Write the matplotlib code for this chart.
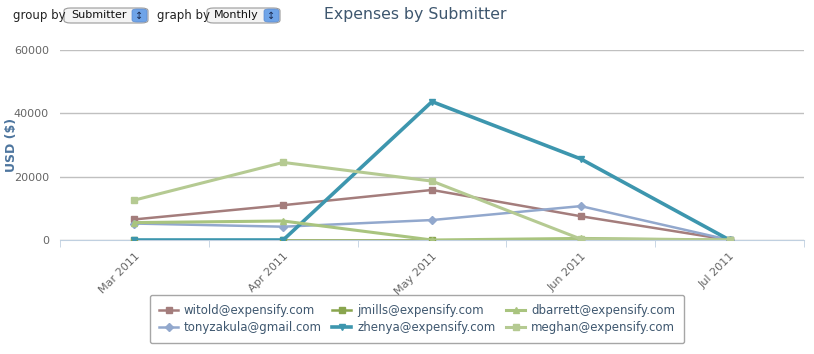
import matplotlib
matplotlib.use("Agg")
import matplotlib.pyplot as plt
from matplotlib.patches import FancyBboxPatch

# data
months = ["Mar 2011", "Apr 2011", "May 2011", "Jun 2011", "Jul 2011"]
witold = [6500, 11000, 15800, 7500, 0]
jmills = [0, 0, 0, 0, 0]
dbarrett = [5500, 6000, 0, 500, 0]
tonyzakula = [5200, 4200, 6300, 10700, 0]
zhenya = [0, 0, 43700, 25600, 0]
meghan = [12600, 24500, 18600, 300, 0]

series = [
    ("witold@expensify.com", witold, "#A47D7C", "s", 1.8),
    ("tonyzakula@gmail.com", tonyzakula, "#92A8CD", "D", 1.8),
    ("jmills@expensify.com", jmills, "#89A54E", "s", 1.8),
    ("zhenya@expensify.com", zhenya, "#3D96AE", "v", 2.6),
    ("dbarrett@expensify.com", dbarrett, "#A9C47F", "^", 2.2),
    ("meghan@expensify.com", meghan, "#B5CA92", "s", 2.2),
]

W, H = 814, 354
fig = plt.figure(figsize=(W / 100, H / 100), dpi=100)
ax = fig.add_axes([60 / W, (H - 240) / H, (804 - 60) / W, 190 / H])

x = list(range(len(months)))
for name, vals, col, mk, lw in series:
    ax.plot(x, vals, color=col, lw=lw, marker=mk, ms=4.5, label=name,
            solid_joinstyle="round")

ax.set_xlim(-0.5, len(months) - 0.5)
ax.set_ylim(0, 60000)
ax.set_yticks([0, 20000, 40000, 60000])
ax.set_yticklabels(["0", "20000", "40000", "60000"])
ax.set_xticks(x)
ax.set_xticklabels(months, rotation=45, ha="right", rotation_mode="anchor")
ax.set_xticks([i + 0.5 for i in range(-1, len(months))], minor=True)
ax.tick_params(axis="x", which="major", length=0, labelsize=8, colors="#666666", pad=8)
ax.tick_params(axis="x", which="minor", length=5, color="#C0D0E0")
ax.tick_params(axis="y", length=0, labelsize=8, colors="#666666", pad=8)
ax.grid(axis="y", color="#C0C0C0", lw=1)
for s in ["left", "right", "top"]:
    ax.spines[s].set_visible(False)
ax.spines["bottom"].set_color("#C0D0E0")
ax.spines["bottom"].set_zorder(0)
ax.set_ylabel("USD ($)", color="#4D759E", fontsize=9, fontweight="bold")
ax.yaxis.set_label_coords(18 / W, 1 - 145 / H, transform=fig.transFigure)

leg = ax.legend(loc="upper center", bbox_to_anchor=(417 / W, 1 - 295 / H),
                bbox_transform=fig.transFigure, ncol=3, frameon=True,
                fontsize=8.5, handlelength=1.6, columnspacing=0.9,
                labelspacing=0.3, borderpad=0.8, handletextpad=0.5,
                labelcolor="#3E576F", fancybox=True, borderaxespad=0)
leg.get_frame().set_edgecolor("#909090")
leg.get_frame().set_linewidth(1)

# header
fig.text(415 / W, 1 - 14 / H, "Expenses by Submitter", ha="center", va="center",
         fontsize=11.3, color="#3E576F")


def select_box(x0, w, label):
    fig.patches.append(FancyBboxPatch((x0 / W, 1 - 23 / H), w / W, 15 / H,
                                      boxstyle="round,pad=0,rounding_size=0.008",
                                      transform=fig.transFigure, fc="#F4F4F4",
                                      ec="#9A9A9A", lw=0.8))
    fig.patches.append(FancyBboxPatch(((x0 + w - 16) / W, 1 - 22 / H), 15 / W, 13 / H,
                                      boxstyle="round,pad=0,rounding_size=0.006",
                                      transform=fig.transFigure, fc="#6FA4E8",
                                      ec="#5A8AD0", lw=0.5))
    fig.text((x0 + w - 8.5) / W, 1 - 15.5 / H, "\u2195", ha="center", va="center",
             fontsize=7, color="#1A2A50")
    fig.text((x0 + 7) / W, 1 - 15.5 / H, label, ha="left", va="center",
             fontsize=8, color="#111111")


fig.text(13 / W, 1 - 16 / H, "group by", ha="left", va="center", fontsize=8.5, color="#222222")
select_box(64, 84, "Submitter")
fig.text(157 / W, 1 - 16 / H, "graph by", ha="left", va="center", fontsize=8.5, color="#222222")
select_box(207, 73, "Monthly")

fig.savefig("out.png", dpi=100)
